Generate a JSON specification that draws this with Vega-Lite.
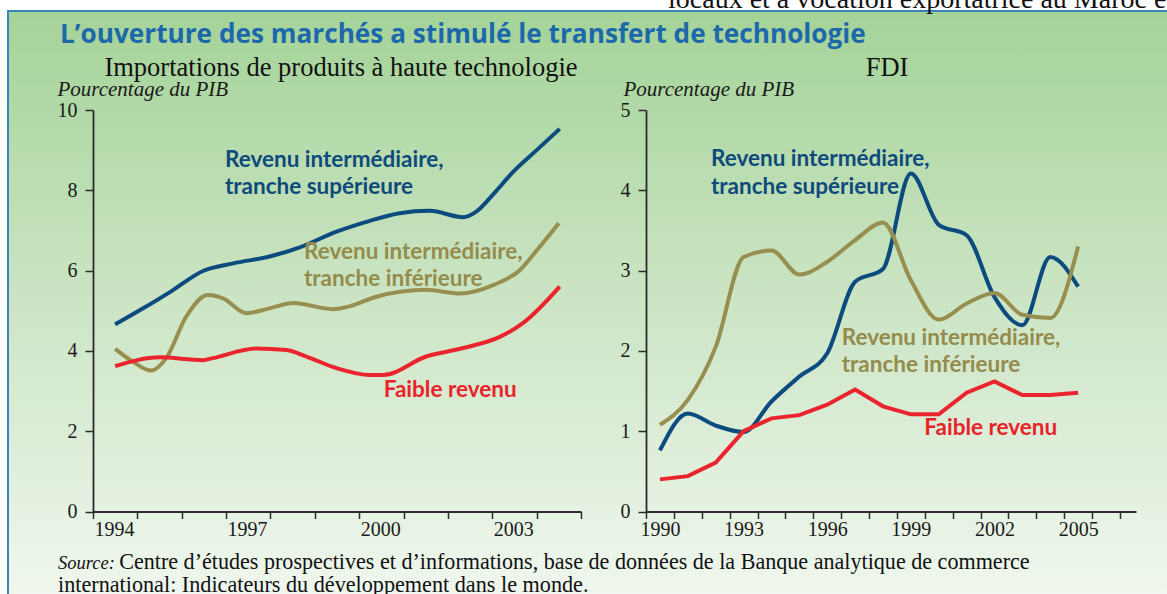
{
  "$schema": "https://vega.github.io/schema/vega-lite/v6.json",
  "width": 1161,
  "height": 585,
  "autosize": {"type": "none"},
  "padding": {"left": 8, "top": 11, "right": -2, "bottom": -2},
  "background": "#ffffff",
  "config": {
    "view": {
      "fill": {"gradient": "linear", "x1": 0, "y1": 0, "x2": 0, "y2": 1,
        "stops": [{"offset": 0, "color": "#a4d398"}, {"offset": 0.5, "color": "#cce5c5"}, {"offset": 1, "color": "#f0f7ee"}]},
      "stroke": "#3c83bd",
      "strokeWidth": 2
    },
    "axis": {
      "domainColor": "#2b2b2b", "domainWidth": 1.8, "tickColor": "#2b2b2b", "tickWidth": 1.5,
      "labelFont": "Liberation Serif", "labelFontSize": 20, "labelColor": "#1a1a1a",
      "grid": false, "labelOverlap": false, "labelFlush": false, "labelBound": false,
      "titleFont": "Liberation Serif", "titleFontStyle": "italic", "titleFontWeight": "normal",
      "titleFontSize": 21, "titleColor": "#1a1a1a"
    },
    "text": {"font": "Liberation Serif"}
  },
  "datasets": {
    "imports": [
      {"series": "sup", "year": 1994.0, "value": 4.66},
      {"series": "sup", "year": 1994.63, "value": 5.06},
      {"series": "sup", "year": 1995.27, "value": 5.49},
      {"series": "sup", "year": 1995.98, "value": 5.99},
      {"series": "sup", "year": 1996.66, "value": 6.18},
      {"series": "sup", "year": 1997.48, "value": 6.35},
      {"series": "sup", "year": 1998.16, "value": 6.58},
      {"series": "sup", "year": 1998.99, "value": 6.97},
      {"series": "sup", "year": 1999.74, "value": 7.24},
      {"series": "sup", "year": 2000.41, "value": 7.43},
      {"series": "sup", "year": 2001.09, "value": 7.49},
      {"series": "sup", "year": 2001.84, "value": 7.33},
      {"series": "sup", "year": 2002.14, "value": 7.47},
      {"series": "sup", "year": 2002.52, "value": 7.9},
      {"series": "sup", "year": 2002.97, "value": 8.46},
      {"series": "sup", "year": 2003.5, "value": 9.0},
      {"series": "sup", "year": 2004.02, "value": 9.53},
      {"series": "inf", "year": 1994.0, "value": 4.05},
      {"series": "inf", "year": 1994.4, "value": 3.73},
      {"series": "inf", "year": 1994.81, "value": 3.51},
      {"series": "inf", "year": 1995.15, "value": 3.82},
      {"series": "inf", "year": 1995.6, "value": 4.85},
      {"series": "inf", "year": 1996.09, "value": 5.39},
      {"series": "inf", "year": 1996.43, "value": 5.31},
      {"series": "inf", "year": 1996.96, "value": 4.94},
      {"series": "inf", "year": 1997.48, "value": 5.06},
      {"series": "inf", "year": 1998.01, "value": 5.19},
      {"series": "inf", "year": 1998.91, "value": 5.04},
      {"series": "inf", "year": 1999.21, "value": 5.09},
      {"series": "inf", "year": 1999.89, "value": 5.35},
      {"series": "inf", "year": 2001.01, "value": 5.52},
      {"series": "inf", "year": 2001.77, "value": 5.43},
      {"series": "inf", "year": 2002.52, "value": 5.64},
      {"series": "inf", "year": 2003.12, "value": 6.01},
      {"series": "inf", "year": 2003.5, "value": 6.5},
      {"series": "inf", "year": 2004.0, "value": 7.18},
      {"series": "faible", "year": 1994.0, "value": 3.62},
      {"series": "faible", "year": 1995.0, "value": 3.84},
      {"series": "faible", "year": 1995.98, "value": 3.77},
      {"series": "faible", "year": 1996.2, "value": 3.82},
      {"series": "faible", "year": 1997.18, "value": 4.06},
      {"series": "faible", "year": 1997.86, "value": 4.02},
      {"series": "faible", "year": 1998.31, "value": 3.86},
      {"series": "faible", "year": 1998.99, "value": 3.57},
      {"series": "faible", "year": 1999.74, "value": 3.4},
      {"series": "faible", "year": 2000.04, "value": 3.4},
      {"series": "faible", "year": 2001.01, "value": 3.86},
      {"series": "faible", "year": 2001.92, "value": 4.09},
      {"series": "faible", "year": 2002.67, "value": 4.35},
      {"series": "faible", "year": 2003.19, "value": 4.69},
      {"series": "faible", "year": 2004.02, "value": 5.6}
    ],
    "fdi": [
      {"series": "sup", "year": 1990, "value": 0.76},
      {"series": "sup", "year": 1991, "value": 1.22},
      {"series": "sup", "year": 1992, "value": 1.07},
      {"series": "sup", "year": 1993, "value": 0.99},
      {"series": "sup", "year": 1994, "value": 1.37},
      {"series": "sup", "year": 1995, "value": 1.68},
      {"series": "sup", "year": 1996, "value": 1.97},
      {"series": "sup", "year": 1997, "value": 2.86},
      {"series": "sup", "year": 1998, "value": 3.02},
      {"series": "sup", "year": 1999, "value": 4.21},
      {"series": "sup", "year": 2000, "value": 3.57},
      {"series": "sup", "year": 2001, "value": 3.44},
      {"series": "sup", "year": 2002, "value": 2.67},
      {"series": "sup", "year": 2003, "value": 2.32},
      {"series": "sup", "year": 2004, "value": 3.17},
      {"series": "sup", "year": 2005, "value": 2.8},
      {"series": "inf", "year": 1990, "value": 1.08},
      {"series": "inf", "year": 1991, "value": 1.39},
      {"series": "inf", "year": 1992, "value": 2.05},
      {"series": "inf", "year": 1993, "value": 3.17},
      {"series": "inf", "year": 1994, "value": 3.25},
      {"series": "inf", "year": 1995, "value": 2.95},
      {"series": "inf", "year": 1996, "value": 3.11},
      {"series": "inf", "year": 1997, "value": 3.38},
      {"series": "inf", "year": 1998, "value": 3.6},
      {"series": "inf", "year": 1999, "value": 2.88},
      {"series": "inf", "year": 2000, "value": 2.39},
      {"series": "inf", "year": 2001, "value": 2.59},
      {"series": "inf", "year": 2002, "value": 2.72},
      {"series": "inf", "year": 2003, "value": 2.45},
      {"series": "inf", "year": 2004, "value": 2.41},
      {"series": "inf", "year": 2005, "value": 3.3},
      {"series": "faible", "year": 1990, "value": 0.4},
      {"series": "faible", "year": 1991, "value": 0.44},
      {"series": "faible", "year": 1992, "value": 0.61},
      {"series": "faible", "year": 1993, "value": 1.0},
      {"series": "faible", "year": 1994, "value": 1.16},
      {"series": "faible", "year": 1995, "value": 1.2},
      {"series": "faible", "year": 1996, "value": 1.33},
      {"series": "faible", "year": 1997, "value": 1.52},
      {"series": "faible", "year": 1998, "value": 1.31},
      {"series": "faible", "year": 1999, "value": 1.21},
      {"series": "faible", "year": 2000, "value": 1.21},
      {"series": "faible", "year": 2001, "value": 1.48},
      {"series": "faible", "year": 2002, "value": 1.62},
      {"series": "faible", "year": 2003, "value": 1.45},
      {"series": "faible", "year": 2004, "value": 1.45},
      {"series": "faible", "year": 2005, "value": 1.48}
    ]
  },
  "layer": [
    {
      "layer": [
        {
          "data": {"name": "imports"},
          "mark": {"type": "line", "strokeWidth": 4, "interpolate": "monotone"},
          "encoding": {
            "x": {"field": "year", "type": "quantitative",
              "scale": {"domain": [1993.5, 2004.5], "range": [85, 573], "nice": false, "zero": false},
              "axis": {"orient": "bottom", "offset": -84.5, "title": null,
                "values": [1993.5, 1994.5, 1995.5, 1996.5, 1997.5, 1998.5, 1999.5, 2000.5, 2001.5, 2002.5, 2003.5, 2004.5],
                "labelExpr": "indexof([1993.5, 1996.5, 1999.5, 2002.5], datum.value) >= 0 ? '' + (datum.value + 0.5) : ''",
                "labelOffset": 21, "tickSize": 7, "labelPadding": 1, "labelBaseline": "top"}},
            "y": {"field": "value", "type": "quantitative",
              "scale": {"domain": [0, 10], "range": [500.5, 99], "nice": false},
              "axis": {"orient": "left", "offset": -85, "values": [0, 2, 4, 6, 8, 10], "format": "d",
                "tickSize": 8, "labelPadding": 8,
                "title": "Pourcentage du PIB", "titleAngle": 0, "titleAlign": "left",
                "titleBaseline": "alphabetic", "titleX": -36, "titleY": 84}},
            "color": {"field": "series", "type": "nominal",
              "scale": {"domain": ["sup", "inf", "faible"], "range": ["#0c4b7e", "#978f4f", "#ea242c"]},
              "legend": null}
          }
        },
        {
          "data": {"values": [{}]},
          "mark": {"type": "text", "text": "L’ouverture des marchés a stimulé le transfert de technologie",
            "font": "Open Sans", "fontWeight": "bold", "fontSize": 26.2, "color": "#1c68ab", "align": "left", "baseline": "alphabetic"},
          "encoding": {"x": {"datum": 1992.756, "type": "quantitative"}, "y": {"datum": 11.669, "type": "quantitative"}}
        },
        {
          "data": {"values": [{}]},
          "mark": {"type": "text", "text": "Importations de produits à haute technologie",
            "fontSize": 26.5, "color": "#111111", "align": "center", "baseline": "alphabetic"},
          "encoding": {"x": {"datum": 1999.09, "type": "quantitative"}, "y": {"datum": 10.847, "type": "quantitative"}}
        },
        {
          "data": {"values": [{}]},
          "mark": {"type": "text", "text": "Source:", "fontStyle": "italic",
            "fontSize": 18.5, "color": "#111111", "align": "left", "baseline": "alphabetic"},
          "encoding": {"x": {"datum": 1992.711, "type": "quantitative"}, "y": {"datum": -1.432, "type": "quantitative"}}
        },
        {
          "data": {"values": [{}]},
          "mark": {"type": "text", "text": "Centre d’études prospectives et d’informations, base de données de la Banque analytique de commerce",
            "fontSize": 22.1, "color": "#111111", "align": "left", "baseline": "alphabetic"},
          "encoding": {"x": {"datum": 1994.09, "type": "quantitative"}, "y": {"datum": -1.432, "type": "quantitative"}}
        },
        {
          "data": {"values": [{}]},
          "mark": {"type": "text", "text": "international: Indicateurs du développement dans le monde.",
            "fontSize": 22.2, "color": "#111111", "align": "left", "baseline": "alphabetic"},
          "encoding": {"x": {"datum": 1992.711, "type": "quantitative"}, "y": {"datum": -2.005, "type": "quantitative"}}
        },
        {
          "data": {"values": [{}]},
          "mark": {"type": "text", "text": ["Revenu intermédiaire,", "tranche supérieure"], "lineHeight": 27.5,
            "font": "Lato", "fontWeight": "bold", "fontSize": 22.5, "color": "#0e4a7c", "align": "left", "baseline": "alphabetic"},
          "encoding": {"x": {"datum": 1996.475, "type": "quantitative"}, "y": {"datum": 8.588, "type": "quantitative"}}
        },
        {
          "data": {"values": [{}]},
          "mark": {"type": "text", "text": ["Revenu intermédiaire,", "tranche inférieure"], "lineHeight": 27,
            "font": "Lato", "fontWeight": "bold", "fontSize": 22.5, "color": "#948c4c", "align": "left", "baseline": "alphabetic"},
          "encoding": {"x": {"datum": 1998.256, "type": "quantitative"}, "y": {"datum": 6.289, "type": "quantitative"}}
        },
        {
          "data": {"values": [{}]},
          "mark": {"type": "text", "text": "Faible revenu",
            "font": "Lato", "fontWeight": "bold", "fontSize": 22.5, "color": "#e8232a", "align": "left", "baseline": "alphabetic"},
          "encoding": {"x": {"datum": 2000.053, "type": "quantitative"}, "y": {"datum": 2.859, "type": "quantitative"}}
        }
      ]
    },
    {
      "layer": [
        {
          "data": {"name": "fdi"},
          "transform": [{"filter": "datum.series != 'faible'"}],
          "mark": {"type": "line", "strokeWidth": 4, "interpolate": "monotone"},
          "encoding": {
            "x": {"field": "year", "type": "quantitative",
              "scale": {"domain": [1989.5, 2007.075], "range": [638, 1128], "nice": false, "zero": false},
              "axis": {"orient": "bottom", "offset": -84.5, "title": null,
                "values": [1989.5, 1990.5, 1991.5, 1992.5, 1993.5, 1994.5, 1995.5, 1996.5, 1997.5, 1998.5, 1999.5, 2000.5, 2001.5, 2002.5, 2003.5, 2004.5, 2005.5, 2006.5],
                "labelExpr": "indexof([1989.5, 1992.5, 1995.5, 1998.5, 2001.5, 2004.5], datum.value) >= 0 ? '' + (datum.value + 0.5) : ''",
                "labelOffset": 13.94, "tickSize": 7, "labelPadding": 1, "labelBaseline": "top"}},
            "y": {"field": "value", "type": "quantitative",
              "scale": {"domain": [0, 5], "range": [500.5, 99], "nice": false},
              "axis": {"orient": "left", "offset": -638, "values": [0, 1, 2, 3, 4, 5], "format": "d",
                "tickSize": 8, "labelPadding": 8,
                "title": "Pourcentage du PIB", "titleAngle": 0, "titleAlign": "left",
                "titleBaseline": "alphabetic", "titleX": -23, "titleY": 84}},
            "color": {"field": "series", "type": "nominal",
              "scale": {"domain": ["sup", "inf", "faible"], "range": ["#0c4b7e", "#978f4f", "#ea242c"]},
              "legend": null}
          }
        },
        {
          "data": {"name": "fdi"},
          "transform": [{"filter": "datum.series == 'faible'"}],
          "mark": {"type": "line", "strokeWidth": 4, "interpolate": "linear"},
          "encoding": {
            "x": {"field": "year", "type": "quantitative"},
            "y": {"field": "value", "type": "quantitative"},
            "color": {"field": "series", "type": "nominal", "legend": null}
          }
        },
        {
          "data": {"values": [{}]},
          "mark": {"type": "text", "text": "locaux et à vocation exportatrice au Maroc et",
            "fontSize": 28, "color": "#111111", "align": "left", "baseline": "alphabetic"},
          "encoding": {"x": {"datum": 1990.29, "type": "quantitative"}, "y": {"datum": 6.27, "type": "quantitative"}}
        },
        {
          "data": {"values": [{}]},
          "mark": {"type": "text", "text": "FDI",
            "fontSize": 26.5, "color": "#111111", "align": "center", "baseline": "alphabetic"},
          "encoding": {"x": {"datum": 1998.144, "type": "quantitative"}, "y": {"datum": 5.423, "type": "quantitative"}}
        },
        {
          "data": {"values": [{}]},
          "mark": {"type": "text", "text": ["Revenu intermédiaire,", "tranche supérieure"], "lineHeight": 28,
            "font": "Lato", "fontWeight": "bold", "fontSize": 22.5, "color": "#0e4a7c", "align": "left", "baseline": "alphabetic"},
          "encoding": {"x": {"datum": 1991.831, "type": "quantitative"}, "y": {"datum": 4.303, "type": "quantitative"}}
        },
        {
          "data": {"values": [{}]},
          "mark": {"type": "text", "text": ["Revenu intermédiaire,", "tranche inférieure"], "lineHeight": 27,
            "font": "Lato", "fontWeight": "bold", "fontSize": 22.5, "color": "#948c4c", "align": "left", "baseline": "alphabetic"},
          "encoding": {"x": {"datum": 1996.519, "type": "quantitative"}, "y": {"datum": 2.073, "type": "quantitative"}}
        },
        {
          "data": {"values": [{}]},
          "mark": {"type": "text", "text": "Faible revenu",
            "font": "Lato", "fontWeight": "bold", "fontSize": 22.5, "color": "#e8232a", "align": "left", "baseline": "alphabetic"},
          "encoding": {"x": {"datum": 1999.482, "type": "quantitative"}, "y": {"datum": 0.953, "type": "quantitative"}}
        }
      ]
    }
  ],
  "resolve": {"scale": {"x": "independent", "y": "independent"}, "axis": {"x": "independent", "y": "independent"}}
}
